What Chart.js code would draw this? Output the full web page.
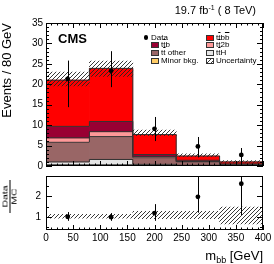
<!DOCTYPE html>
<html>
<head>
<meta charset="utf-8">
<script src="https://cdn.jsdelivr.net/npm/chart.js@4.4.1/dist/chart.umd.min.js"></script>
<style>
body { margin:0; background:#fff; width:274px; height:264px; overflow:hidden; position:relative;
       font-family:"Liberation Sans", Arial, sans-serif; color:#000; }
canvas { position:absolute; left:0; }
#topChart { top:0; }
#ratioChart { top:165px; }
.txt { position:absolute; white-space:nowrap; line-height:1; }
.ob { text-decoration:overline; }
.leg { position:absolute; font-size:8px; line-height:8px; white-space:nowrap; }
.box { position:absolute; width:6px; height:4px; border:1px solid #333; }
</style>
</head>
<body>
<canvas id="topChart" width="274" height="175"></canvas>
<canvas id="ratioChart" width="274" height="99"></canvas>

<div class="txt" style="left:58px;top:31.5px;font-size:13px;font-weight:bold;">CMS</div>
<div class="txt" style="right:18px;top:4.5px;font-size:11px;">19.7 fb<span style="font-size:7px;position:relative;top:-4px;">-1</span> ( 8 TeV)</div>

<!-- legend -->
<div style="position:absolute;left:143.7px;top:35px;width:4.6px;height:4.6px;border-radius:50%;background:#000;"></div>
<div class="leg" style="left:151px;top:33.5px;">Data</div>
<div class="box" style="left:206px;top:34.5px;background:#ff0000;"></div>
<div class="leg" style="left:216px;top:33.5px;">t<span class="ob">t</span>b<span class="ob">b</span></div>
<div class="box" style="left:151px;top:42.3px;background:#990033;"></div>
<div class="leg" style="left:161px;top:41.3px;">t<span class="ob">t</span>b</div>
<div class="box" style="left:206px;top:42.3px;background:#ff9999;"></div>
<div class="leg" style="left:216px;top:41.3px;">t<span class="ob">t</span>2b</div>
<div class="box" style="left:151px;top:50.4px;background:#996666;"></div>
<div class="leg" style="left:161px;top:49.4px;">t<span class="ob">t</span> other</div>
<div class="box" style="left:206px;top:50.4px;background:#e5e5e5;"></div>
<div class="leg" style="left:216px;top:49.4px;">t<span class="ob">t</span>H</div>
<div class="box" style="left:151px;top:57.7px;background:#ffcc66;"></div>
<div class="leg" style="left:161px;top:56.7px;">Minor bkg.</div>
<div class="box" id="uncBox" style="left:206px;top:57.7px;"></div>
<div class="leg" style="left:216px;top:56.7px;">Uncertainty</div>

<div class="txt" style="right:11px;top:249px;font-size:13px;">m<span style="font-size:9px;position:relative;top:3px;">bb</span> [GeV]</div>

<div style="position:absolute;left:-1.5px;top:188px;width:22px;font-size:7px;line-height:8px;text-align:center;transform:rotate(-90deg) scaleX(1.5);">
  <div style="border-bottom:1px solid #000;">Data</div>
  <div>MC</div>
</div>

<script>
// bins of m_bb (GeV)
const binEdges = [0, 80, 160, 240, 320, 400];
const binCenters = [40, 120, 200, 280, 360];
const xTicks = [0, 50, 100, 150, 200, 250, 300, 350, 400];
const ratioTicks = [1, 2];

// MC stack, bottom to top
const minorBkg = [0.3, 0.3, 0.15, 0.1, 0.05];
const ttH = [0.7, 1.3, 0.25, 0.1, 0.05];
const ttOther = [4.8, 5.6, 1.6, 0.8, 0.2];
const tt2b = [1.1, 1.2, 0.3, 0.1, 0.1];
const ttb = [2.8, 2.5, 0.5, 0.3, 0.1];
const ttbb = [11.3, 13.0, 4.9, 1.05, 0.5];

// MC uncertainty band (low / high edge)
const uncLow = [19.6, 21.9, 7.4, 2.3, 0.85];
const uncHigh = [23.0, 25.7, 8.8, 3.0, 1.3];

// data with error bar edges
const dataCounts = [21.3, 23.3, 9.1, 4.8, 2.7];
const dataLow = [14.4, 19.3, 6.1, 2.1, 0.2];
const dataHigh = [25.8, 28.1, 12.0, 7.1, 4.4];

// ratio panel
const ratioValues = [1.0, 0.98, 1.18, 1.98, 2.62];
const ratioLow = [0.8, 0.8, 0.8, 1.2, 1.08];
const ratioHigh = [1.23, 1.18, 1.62, 3.5, 4.0];
const ratioUncLow = [0.93, 0.93, 0.9, 0.9, 0.65];
const ratioUncHigh = [1.12, 1.12, 1.27, 1.27, 1.47];

Chart.defaults.font.family = '"Liberation Sans", Arial, sans-serif';
Chart.defaults.color = '#000';
Chart.defaults.animation = false;

function makeHatch() {
    const c = document.createElement('canvas');
    c.width = 4; c.height = 4;
    const g = c.getContext('2d');
    g.strokeStyle = '#222';
    g.lineWidth = 0.9;
    g.beginPath();
    g.moveTo(0, 4); g.lineTo(4, 0);
    g.moveTo(-1, 1); g.lineTo(1, -1);
    g.moveTo(3, 5); g.lineTo(5, 3);
    g.stroke();
    return c;
}
const hatchCanvas = makeHatch();
const hatch = hatchCanvas.getContext('2d').createPattern(hatchCanvas, 'repeat');
document.getElementById('uncBox').style.background = 'url(' + hatchCanvas.toDataURL() + ')';

// ROOT-like frame with inward ticks
const rootFrame = {
    id: 'rootFrame',
    afterDraw(chart, args, o) {
        const {ctx, chartArea: a, scales} = chart;
        const x = scales.x, y = scales.y;
        ctx.save();
        ctx.strokeStyle = '#000';
        ctx.lineWidth = 1;
        ctx.beginPath();
        for (let v = 0; v <= 400 + 1e-6; v += o.xMinor) {
            const px = Math.round(x.getPixelForValue(v)) + 0.5;
            const len = (Math.abs(v / o.xMajor - Math.round(v / o.xMajor)) < 1e-6) ? 5 : 2.5;
            ctx.moveTo(px, a.bottom); ctx.lineTo(px, a.bottom - len);
            if (o.topTicks) { ctx.moveTo(px, a.top); ctx.lineTo(px, a.top + len); }
        }
        const start = Math.ceil(y.min / o.yMinor - 1e-6) * o.yMinor;
        for (let v = start; v <= y.max + 1e-6; v += o.yMinor) {
            const py = Math.round(y.getPixelForValue(v)) + 0.5;
            const len = (Math.abs(v / o.yMajor - Math.round(v / o.yMajor)) < 1e-6) ? 6 : 3;
            ctx.moveTo(a.left, py); ctx.lineTo(a.left + len, py);
            ctx.moveTo(a.right, py); ctx.lineTo(a.right - len, py);
        }
        ctx.stroke();
        ctx.strokeRect(a.left + 0.5, a.top + 0.5, a.right - a.left - 1, a.bottom - a.top - 1);
        ctx.restore();
    }
};

// vertical error bars for the data points
const errorBars = {
    id: 'errorBars',
    afterDatasetsDraw(chart, args, o) {
        const {ctx, chartArea: a, scales} = chart;
        const x = scales.x, y = scales.y;
        ctx.save();
        ctx.beginPath();
        ctx.rect(a.left, a.top, a.right - a.left, a.bottom - a.top);
        ctx.clip();
        ctx.strokeStyle = '#000';
        ctx.lineWidth = 1;
        ctx.beginPath();
        o.centers.forEach((c, i) => {
            const px = Math.round(x.getPixelForValue(c)) + 0.5;
            ctx.moveTo(px, y.getPixelForValue(o.low[i]));
            ctx.lineTo(px, y.getPixelForValue(o.high[i]));
        });
        ctx.stroke();
        ctx.restore();
    }
};

// ---- upper panel ----
const components = [
    {values: minorBkg, color: '#ffcc66'},
    {values: ttH, color: '#e5e5e5'},
    {values: ttOther, color: '#996666'},
    {values: tt2b, color: '#ff9999'},
    {values: ttb, color: '#990033'},
    {values: ttbb, color: '#ff0000'}
];
const topDatasets = [];
let base = binCenters.map(() => 0);
components.forEach((c, k) => {
    const hi = base.map((b, i) => b + c.values[i]);
    const lo = base;
    topDatasets.push({
        type: 'bar', xAxisID: 'x', grouped: false, barPercentage: 1, categoryPercentage: 1,
        data: binCenters.map((xc, i) => ({x: xc, y: [lo[i], hi[i]]})),
        backgroundColor: c.color, borderWidth: 0, order: 20 - k
    });
    // step outline of the cumulative histogram
    topDatasets.push({
        type: 'line', xAxisID: 'x', stepped: 'before', pointRadius: 0, fill: false,
        data: binEdges.map((e, i) => ({x: e, y: hi[Math.min(i, hi.length - 1)]})),
        borderColor: '#333', borderWidth: 1, order: 5
    });
    base = hi;
});
topDatasets.push({
    type: 'bar', xAxisID: 'x', grouped: false, barPercentage: 1, categoryPercentage: 1,
    data: binCenters.map((xc, i) => ({x: xc, y: [uncLow[i], uncHigh[i]]})),
    backgroundColor: hatch, borderWidth: 0, order: 2
});
topDatasets.push({
    type: 'line', xAxisID: 'x', showLine: false, pointRadius: 2.4, pointBackgroundColor: '#000',
    pointBorderWidth: 0, data: binCenters.map((xc, i) => ({x: xc, y: dataCounts[i]})), order: 0
});

new Chart(document.getElementById('topChart'), {
    type: 'bar',
    data: {datasets: topDatasets},
    options: {
        responsive: false,
        layout: {padding: {top: 23, right: 11, bottom: 4, left: 0}},
        plugins: {
            legend: {display: false}, tooltip: {enabled: false},
            errorBars: {centers: binCenters, low: dataLow, high: dataHigh},
            rootFrame: {xMinor: 10, xMajor: 50, yMinor: 1, yMajor: 5, topTicks: true}
        },
        scales: {
            x: {
                type: 'linear', min: 0, max: 400, offset: false, display: false,
                afterBuildTicks: s => { s.ticks = binEdges.map(v => ({value: v})); }
            },
            y: {
                min: 0, max: 35,
                grid: {display: false, drawTicks: false}, border: {display: false},
                ticks: {stepSize: 5, padding: 3, font: {size: 10}},
                title: {display: true, text: 'Events / 80 GeV', align: 'end', font: {size: 13}, padding: 0},
                afterFit: s => { s.width = 46; }
            }
        }
    },
    plugins: [errorBars, rootFrame]
});

// ---- ratio panel ----
new Chart(document.getElementById('ratioChart'), {
    type: 'bar',
    data: {datasets: [
        {
            type: 'bar', xAxisID: 'xb', grouped: false, barPercentage: 1, categoryPercentage: 1,
            data: binCenters.map((xc, i) => ({x: xc, y: [ratioUncLow[i], ratioUncHigh[i]]})),
            backgroundColor: hatch, borderWidth: 0, order: 2
        },
        {
            type: 'line', xAxisID: 'x', showLine: false, pointRadius: 2.4, pointBackgroundColor: '#000',
            pointBorderWidth: 0, data: binCenters.map((xc, i) => ({x: xc, y: ratioValues[i]})), order: 0
        }
    ]},
    options: {
        responsive: false,
        layout: {padding: {top: 6, right: 11, bottom: 0, left: 0}},
        plugins: {
            legend: {display: false}, tooltip: {enabled: false},
            errorBars: {centers: binCenters, low: ratioLow, high: ratioHigh},
            rootFrame: {xMinor: 10, xMajor: 50, yMinor: 0.5, yMajor: 1, topTicks: false}
        },
        scales: {
            x: {
                type: 'linear', min: 0, max: 400, offset: false,
                grid: {display: false, drawTicks: false}, border: {display: false},
                ticks: {padding: 2, font: {size: 10}, maxRotation: 0, autoSkip: false},
                afterBuildTicks: s => { s.ticks = xTicks.map(v => ({value: v})); },
                afterFit: s => { s.height = 34; }
            },
            xb: {
                type: 'linear', min: 0, max: 400, offset: false, display: false,
                afterBuildTicks: s => { s.ticks = binEdges.map(v => ({value: v})); }
            },
            y: {
                min: 0.35, max: 3,
                grid: {display: false, drawTicks: false}, border: {display: false},
                ticks: {padding: 5, font: {size: 10}},
                afterBuildTicks: s => { s.ticks = ratioTicks.map(v => ({value: v})); },
                afterFit: s => { s.width = 46; }
            }
        }
    },
    plugins: [errorBars, rootFrame]
});
</script>
</body>
</html>
